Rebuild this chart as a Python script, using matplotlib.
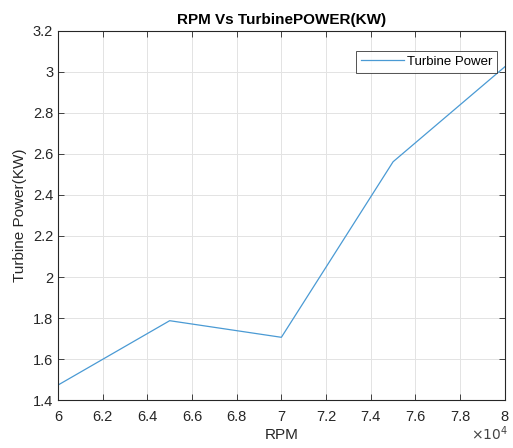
import numpy as np
import matplotlib.pyplot as plt

rpm = [60000, 65000, 70000, 75000, 80000]
power = [1.473, 1.787, 1.706, 2.562, 3.025]

plt.rcParams['font.family'] = ['Liberation Sans', 'DejaVu Sans']

def short(v):
    return ('%.1f' % v).rstrip('0').rstrip('.')

fig = plt.figure(figsize=(5.13, 4.48), dpi=100)
ax = fig.add_axes([0.113, 0.107, 0.871, 0.824])
ax.plot(rpm, power, color='#4a9ad4', lw=0.9, label='Turbine Power')

ax.set_xlim(60000, 80000)
ax.set_ylim(1.4, 3.2)
ax.set_xticks(np.arange(60000, 80001, 2000))
ax.set_yticks(np.arange(1.4, 3.21, 0.2))
ax.xaxis.set_major_formatter(plt.FuncFormatter(lambda v, p: short(v / 1e4)))
ax.yaxis.set_major_formatter(plt.FuncFormatter(lambda v, p: short(v)))
ax.grid(True, color='#e3e3e3', lw=0.7)
ax.tick_params(direction='in', top=True, right=True, labelsize=10.5, colors='#262626', length=4, width=0.6)
ax.tick_params(axis='x', pad=7)
fig.text(0.955, 0.018, r'$\times10^{4}$', fontsize=10, color='#444444', ha='center')
for s in ax.spines.values():
    s.set_color('#262626')
    s.set_linewidth(0.8)

ax.set_xlabel('RPM', fontsize=11, color='#262626', labelpad=3)
ax.set_ylabel('Turbine Power(KW)', fontsize=11, color='#262626', labelpad=4)
ax.set_title('RPM Vs TurbinePOWER(KW)', fontsize=11, fontweight='bold', pad=5)
leg = ax.legend(loc='upper right', bbox_to_anchor=(0.982, 0.945), fontsize=9.5, fancybox=False,
                edgecolor='#262626', borderpad=0.35, handlelength=3.3, handletextpad=0.2,
                borderaxespad=0)
leg.get_frame().set_linewidth(0.7)

fig.savefig('out.png', dpi=100)
